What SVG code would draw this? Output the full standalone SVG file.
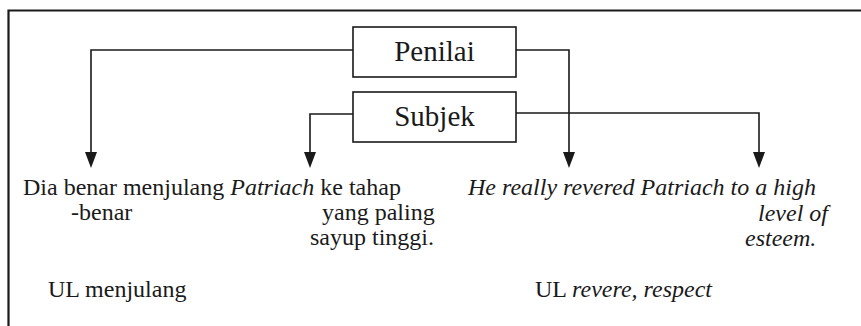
<svg xmlns="http://www.w3.org/2000/svg" width="861" height="326" viewBox="0 0 861 326">
<style>
.frame{fill:none;stroke:#1a1a1a;stroke-width:2.2}
.box rect{fill:#fff;stroke:#1a1a1a;stroke-width:1.6}
.box text{font-family:'Liberation Serif','Times New Roman',serif;font-size:29px;fill:#1a1a1a;text-anchor:middle}
.conn path{fill:none;stroke:#1a1a1a;stroke-width:1.6}
.t{font-family:'Liberation Serif','Times New Roman',serif;font-size:24px;fill:#1a1a1a}
.i{font-style:italic}
</style>
<defs>
<path id="ah" d="M-6,-16 L6,-16 L0,0 Z" fill="#1a1a1a"/>
</defs>
<path class="frame" d="M8.5,326 V10.5 H861"/>
<g class="conn">
<path d="M353,50 H91 V154"/>
<path d="M516,50 H569 V154"/>
<path d="M353,114 H310 V154"/>
<path d="M516,113 H759 V154"/>
<use href="#ah" x="91" y="168"/>
<use href="#ah" x="569" y="168"/>
<use href="#ah" x="310" y="168"/>
<use href="#ah" x="759" y="168"/>
</g>
<g id="penilai" class="box">
<rect x="353" y="27" width="163" height="50"/>
<text x="434.5" y="61">Penilai</text>
</g>
<g id="subjek" class="box">
<rect x="353" y="92" width="163" height="50"/>
<text x="434.5" y="126">Subjek</text>
</g>
<g id="malay">
<text class="t" x="23" y="195">Dia benar menjulang <tspan class="i">Patriach</tspan> ke tahap</text>
<text class="t" x="71" y="220">-benar</text>
<text class="t" x="322" y="220">yang paling</text>
<text class="t" x="310" y="245">sayup tinggi.</text>
</g>
<g id="english">
<text class="t i" x="468" y="195">He really revered Patriach to a high</text>
<text class="t i" x="758" y="221">level of</text>
<text class="t i" x="745" y="246">esteem.</text>
</g>
<g id="ul">
<text class="t" x="48" y="297">UL menjulang</text>
<text class="t" x="535" y="297">UL <tspan class="i">revere, respect</tspan></text>
</g>
</svg>
